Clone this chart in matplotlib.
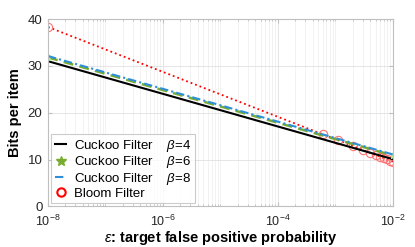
import matplotlib
matplotlib.use("Agg")
import matplotlib.pyplot as plt
from matplotlib.lines import Line2D
from matplotlib.ticker import LogLocator, NullFormatter

plt.rcParams['font.family'] = ['Liberation Sans', 'DejaVu Sans']
plt.rcParams['mathtext.fontset'] = 'custom'
plt.rcParams['mathtext.rm'] = 'Liberation Sans'
plt.rcParams['mathtext.it'] = 'Liberation Sans:italic'
plt.rcParams['mathtext.bf'] = 'Liberation Sans:bold'

# data
eps_cf = [1e-8, 1e-2]
cf_b4 = [31.0, 10.1]
cf_b6 = [31.8, 10.9]
cf_b8 = [32.1, 11.1]

eps_bf = [1e-8, 6e-4, 1.1e-3, 2e-3, 3e-3, 4e-3, 5e-3, 6e-3, 7e-3, 8e-3, 9e-3, 1e-2]
bloom = [38.3, 15.4, 14.2, 12.9, 12.07, 11.47, 11.0, 10.63, 10.31, 10.03, 9.78, 9.57]

labels = ["Cuckoo Filter    $\\it{\\beta}$=4", "Cuckoo Filter    $\\it{\\beta}$=6",
          "Cuckoo Filter    $\\it{\\beta}$=8", "Bloom Filter"]

green = (0.466, 0.674, 0.188)
blue = (0.18, 0.56, 0.85)
red = (1.0, 0.0, 0.0)

fig = plt.figure(figsize=(4.15, 2.47), dpi=100)
ax = fig.add_axes([0.1157, 0.164, 0.831, 0.759])

ax.plot(eps_bf, bloom, color=red, ls=':', lw=1.3)
ax.plot(eps_bf, bloom, ls='none', marker='o', ms=6, mfc='none', mec=(1, 0.45, 0.45), mew=0.8)
ax.plot(eps_cf, cf_b4, color='black', lw=1.5)
ax.plot(eps_cf, cf_b6, color=green, ls=(0, (4, 2.5)), lw=1.8)
ax.plot(eps_cf, cf_b6, ls='none', marker='*', ms=5, color=(0.7, 0.9, 0.6))
ax.plot(eps_cf, cf_b8, color=blue, ls=(0, (4, 1.5, 1, 1.5)), lw=1.5)

ax.set_xscale('log')
ax.set_xlim(1e-8, 1e-2)
ax.set_ylim(0, 40)
ax.set_yticks([0, 10, 20, 30, 40])
ax.set_xticks([1e-8, 1e-6, 1e-4, 1e-2])
ax.xaxis.set_minor_locator(LogLocator(base=10, subs=range(1, 10), numticks=20))
ax.xaxis.set_minor_formatter(NullFormatter())

ax.grid(True, which='major', color=(0.88, 0.88, 0.88), lw=0.6)
ax.grid(True, which='minor', axis='x', color=(0.93, 0.93, 0.93), lw=0.5)
ax.set_axisbelow(True)

for s in ax.spines.values():
    s.set_color((0.75, 0.75, 0.75))
    s.set_linewidth(0.8)
ax.tick_params(which='both', direction='in', top=True, right=True,
               colors=(0.75, 0.75, 0.75), labelcolor=(0.15, 0.15, 0.15), labelsize=9.5)
ax.tick_params(which='major', length=3)
ax.tick_params(which='minor', length=1.5)
ax.tick_params(axis='x', which='major', pad=5.5, labelsize=9)
ax.tick_params(axis='y', which='major', pad=4)

ax.set_ylabel("Bits per item", fontsize=10.5, fontweight='bold', labelpad=4)
ax.set_xlabel("$\\epsilon$: target false positive probability", fontsize=10.5,
              fontweight='bold', labelpad=0)

handles = [
    Line2D([], [], color='black', lw=1.5),
    Line2D([], [], ls='none', marker='*', ms=7, color=green),
    Line2D([], [], color=blue, ls=(0, (4, 1.5, 1, 1.5)), lw=1.5),
    Line2D([], [], ls='none', marker='o', ms=6, mfc='none', mec=red, mew=1.5),
]
leg = ax.legend(handles, labels, loc='lower left', fontsize=9.5, frameon=True,
                fancybox=False, handlelength=0.9, handletextpad=0.6,
                borderpad=0.25, labelspacing=0.05, borderaxespad=0.25)
leg.get_frame().set_edgecolor((0.75, 0.75, 0.75))
leg.get_frame().set_linewidth(0.8)

fig.savefig("out.png", dpi=100)
